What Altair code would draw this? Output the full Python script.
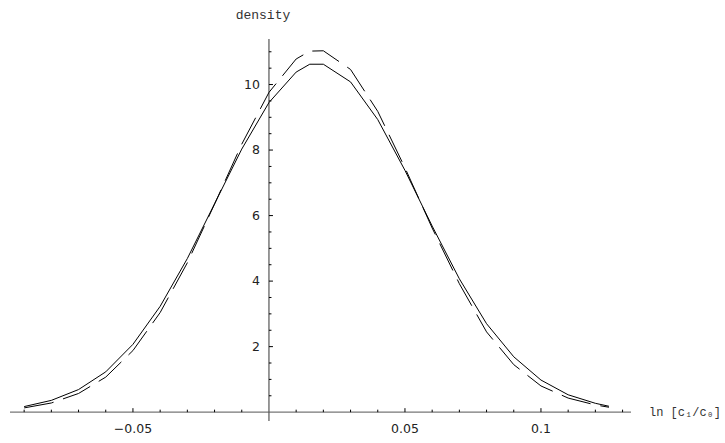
import altair as alt
import pandas as pd

# ---- data ----
x_vals = [-0.09, -0.08, -0.07, -0.06, -0.05, -0.04, -0.03, -0.02, -0.01, 0.0,
          0.01, 0.015, 0.02, 0.03, 0.04, 0.05, 0.06, 0.07, 0.08, 0.09, 0.10,
          0.11, 0.12, 0.125]
solid_density = [0.17, 0.36, 0.69, 1.23, 2.07, 3.23, 4.69, 6.36, 8.03, 9.45,
                 10.38, 10.62, 10.62, 10.08, 8.93, 7.38, 5.68, 4.07, 2.70, 1.69,
                 0.98, 0.53, 0.27, 0.18]
dashed_density = [0.13, 0.28, 0.57, 1.07, 1.88, 3.04, 4.56, 6.35, 8.18, 9.76,
                  10.78, 11.02, 11.03, 10.46, 9.18, 7.46, 5.62, 3.92, 2.45, 1.45,
                  0.80, 0.43, 0.22, 0.15]

x_major = [-0.05, 0.05, 0.1]
x_major_labels = ["\u22120.05", "0.05", "0.1"]
x_minor = [-0.09, -0.08, -0.07, -0.06, -0.04, -0.03, -0.02, -0.01,
           0.01, 0.02, 0.03, 0.04, 0.06, 0.07, 0.08, 0.09, 0.11, 0.12, 0.13]
y_major = [2, 4, 6, 8, 10]
y_major_labels = ["2", "4", "6", "8", "10"]
y_minor = [0.5, 1, 1.5, 2.5, 3, 3.5, 4.5, 5, 5.5, 6.5, 7, 7.5,
           8.5, 9, 9.5, 10.5, 11]

x_title = "ln [c\u2081/c\u2080]"
y_title = "density"

# ---- chart ----
W, H = 621, 382
xs = alt.Scale(domain=[-0.0952, 0.1331], nice=False, zero=False)
ys = alt.Scale(domain=[-0.27, 11.39], nice=False, zero=False)

curves = pd.DataFrame({"x": x_vals, "solid": solid_density, "dashed": dashed_density})
xmaj = pd.DataFrame({"x": x_major, "label": x_major_labels, "y": [0.0] * len(x_major)})
xmin = pd.DataFrame({"x": x_minor, "y": [0.0] * len(x_minor)})
ymaj = pd.DataFrame({"y": y_major, "label": y_major_labels, "x": [0.0] * len(y_major)})
ymin = pd.DataFrame({"y": y_minor, "x": [0.0] * len(y_minor)})
origin = pd.DataFrame({"x": [0.0], "y": [0.0], "t": [y_title], "u": [x_title]})

X = lambda f: alt.X(f, scale=xs, axis=None)
Y = lambda f: alt.Y(f, scale=ys, axis=None)

solid = alt.Chart(curves).mark_line(color="black", strokeWidth=1).encode(
    x=X("x:Q"), y=Y("solid:Q"))
dashed = alt.Chart(curves).mark_line(color="black", strokeWidth=1,
                                     strokeDash=[30, 10]).encode(
    x=X("x:Q"), y=Y("dashed:Q"))

x_axis = alt.Chart(origin).mark_rule(color="#777777", strokeWidth=1.2).encode(
    x=alt.value(0), x2=alt.value(W), y=Y("y:Q"))
y_axis = alt.Chart(origin).mark_rule(color="#555555", strokeWidth=1.2).encode(
    x=X("x:Q"), y=alt.value(0), y2=alt.value(H))

x_major_ticks = alt.Chart(xmaj).mark_rule(color="black", strokeWidth=1,
                                          y2Offset=-4).encode(
    x=X("x:Q"), y=Y("y:Q"), y2="y:Q")
x_minor_ticks = alt.Chart(xmin).mark_rule(color="black", strokeWidth=1,
                                          y2Offset=-2.5).encode(
    x=X("x:Q"), y=Y("y:Q"), y2="y:Q")
y_major_ticks = alt.Chart(ymaj).mark_rule(color="black", strokeWidth=1,
                                          x2Offset=4).encode(
    y=Y("y:Q"), x=X("x:Q"), x2="x:Q")
y_minor_ticks = alt.Chart(ymin).mark_rule(color="black", strokeWidth=1,
                                          x2Offset=2.5).encode(
    y=Y("y:Q"), x=X("x:Q"), x2="x:Q")

x_labels = alt.Chart(xmaj).mark_text(font="DejaVu Sans", fontSize=12.5, color="#222222",
                                     baseline="middle", dy=17).encode(
    x=X("x:Q"), y=Y("y:Q"), text="label:N")
y_labels = alt.Chart(ymaj).mark_text(font="DejaVu Sans", fontSize=12.5, color="#222222",
                                     align="right", baseline="middle", dx=-9).encode(
    y=Y("y:Q"), x=X("x:Q"), text="label:N")

y_title_mark = alt.Chart(origin).mark_text(font="Liberation Mono", fontSize=13,
                                           color="#333333", baseline="middle",
                                           dx=-6).encode(
    x=X("x:Q"), y=alt.value(-24), text="t:N")
x_title_mark = alt.Chart(origin).mark_text(font="Liberation Mono", fontSize=12,
                                           color="#333333", align="left",
                                           baseline="middle").encode(
    x=alt.value(W + 18), y=Y("y:Q"), text="u:N")

chart = alt.layer(
    x_axis, y_axis, x_major_ticks, x_minor_ticks, y_major_ticks, y_minor_ticks,
    x_labels, y_labels, solid, dashed, y_title_mark, x_title_mark
).properties(
    width=W, height=H,
    autosize=alt.AutoSizeParams(type="none"),
    padding={"left": 10, "top": 39, "right": 94, "bottom": 22},
    background="white",
).configure_view(stroke=None)

chart.save("out.html", embed_options={"renderer": "svg", "actions": False})
